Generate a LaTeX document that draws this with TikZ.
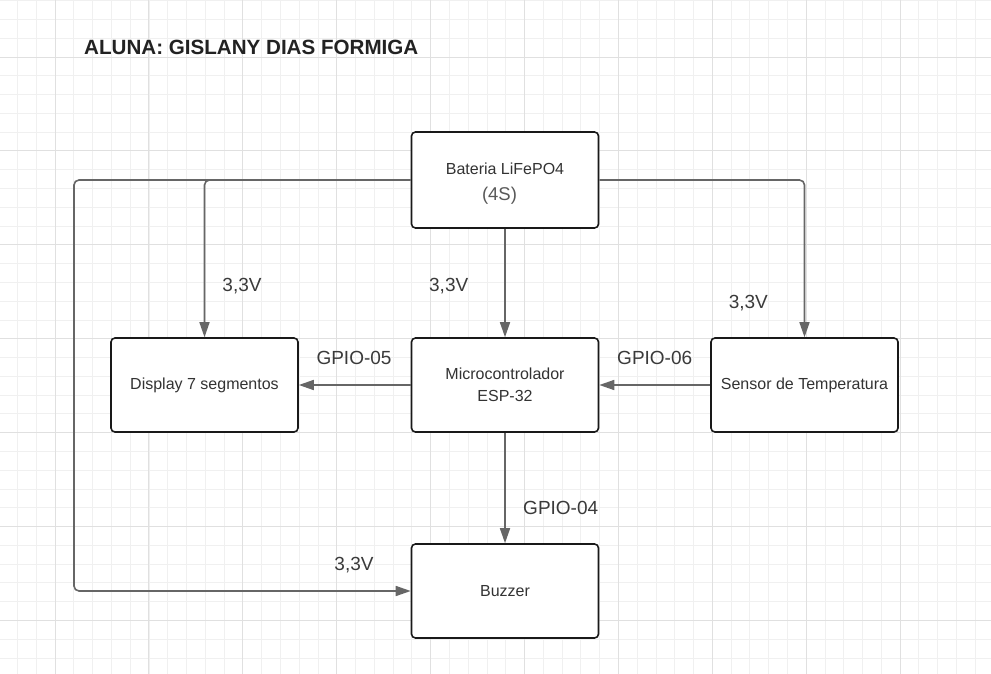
\documentclass[tikz,border=0pt]{standalone}
\usepackage{fontspec}
\setmainfont{Liberation Sans}
\usetikzlibrary{arrows.meta}
\definecolor{gridminor}{HTML}{F0F0F0}
\definecolor{gridmajor}{HTML}{E0E0E0}
\definecolor{linegray}{HTML}{666666}
\definecolor{boxtext}{HTML}{333333}
\definecolor{lbltext}{HTML}{3A3A3A}
\definecolor{titletext}{HTML}{222222}
\tikzset{
  blockbox/.style={draw=black!90, line width=1.6pt, fill=white, rounded corners=4pt,
    minimum width=187pt, minimum height=94pt, inner sep=0pt, align=center,
    text=boxtext, font=\fontsize{16}{21.7}\selectfont},
  conn/.style={draw=linegray, line width=1.6pt, rounded corners=5pt,
    -{Triangle[length=15pt,width=10pt]}},
  lbl/.style={anchor=base, text=lbltext, inner sep=0pt, font=\fontsize{19}{22}\selectfont},
}
\begin{document}
\begin{tikzpicture}[x=1pt,y=-1pt]
\useasboundingbox (0,0) rectangle (991,674);
\fill[white] (0,0) rectangle (991,674);
% grid
\foreach \i in {-3,...,50} {
  \draw[gridminor, line width=0.8pt] ({55+\i*18.78},0) -- ({55+\i*18.78},674);
}
\foreach \i in {-3,...,33} {
  \draw[gridminor, line width=0.8pt] (0,{57+\i*18.78}) -- (991,{57+\i*18.78});
}
\foreach \i in {0,...,10} {
  \draw[gridmajor, line width=0.9pt] ({55+\i*93.9},0) -- ({55+\i*93.9},674);
}
\foreach \i in {0,...,6} {
  \draw[gridmajor, line width=0.9pt] (0,{57+\i*93.9}) -- (991,{57+\i*93.9});
}
% title
\node[anchor=base west, inner sep=0pt, text=titletext, font=\fontsize{20.6}{24}\selectfont\bfseries] (title) at (84,55) {ALUNA: GISLANY DIAS FORMIGA};
% boxes
\node[blockbox, minimum height=96pt] (bat) at (505,180) {\fontsize{16}{20}\selectfont\rule{0pt}{19pt}Bateria LiFePO4\\[4pt]{\fontsize{18.5}{20}\selectfont\color{black!65}(4S)\hspace*{11pt}}};
\node[blockbox] (disp) at (204.5,385) {Display 7 segmentos};
\node[blockbox] (mic) at (505,385) {Microcontrolador\\ESP-32};
\node[blockbox] (sen) at (804.5,385) {Sensor de Temperatura};
\node[blockbox] (buz) at (505,591) {Buzzer};
\coordinate (lft) at (74,400);
% connectors
\draw[conn] (bat.west) -| (disp.north);
\draw[conn] (bat.west) -| (lft) |- (buz.west);
\draw[conn] (bat.east) -| (sen.north);
\draw[conn] (bat.south) -- (mic.north);
\draw[conn] (mic.west) -- (disp.east);
\draw[conn] (sen.west) -- (mic.east);
\draw[conn] (mic.south) -- (buz.north);
% labels
\node[lbl] (l1) at (242,291.7) {3,3V};
\node[lbl] (l2) at (448.7,291) {3,3V};
\node[lbl] (l3) at (748.3,308.3) {3,3V};
\node[lbl] (l4) at (354,570.7) {3,3V};
\node[lbl] (g5) at (354,364.3) {GPIO-05};
\node[lbl] (g6) at (654.7,364) {GPIO-06};
\node[lbl] (g4) at (560.7,514.3) {GPIO-04};
\end{tikzpicture}
\end{document}
